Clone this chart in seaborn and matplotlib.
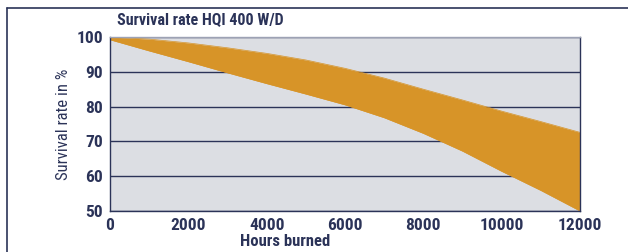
import matplotlib
matplotlib.use("Agg")
from matplotlib import pyplot as plt
import pandas as pd
import seaborn as sns

# data
hours = [0, 1000, 2000, 3000, 4000, 5000, 6000, 7000, 8000, 9000, 10000, 11000, 12000]
upper = [100.0, 99.4, 98.3, 96.9, 95.3, 93.4, 91.0, 88.2, 85.0, 81.9, 78.7, 75.7, 72.6]
lower = [99.2, 96.0, 92.9, 89.7, 86.6, 83.6, 80.5, 76.8, 72.3, 67.2, 61.4, 55.9, 50.0]

navy = '#2b3358'
orange = '#d79428'
panel = '#dcdee3'

sns.set_style('white', {'axes.facecolor': panel})
plt.rcParams['font.family'] = ['Roboto Condensed', 'DejaVu Sans']

df = pd.DataFrame({'hours': hours, 'upper': upper, 'lower': lower})

fig = plt.figure(figsize=(6.28, 2.52), dpi=100)
ax = fig.add_axes([110 / 628, 1 - 211 / 252, 470 / 628, 174 / 252])

sns.lineplot(data=df, x='hours', y='upper', ax=ax, color=orange, lw=0.5)
sns.lineplot(data=df, x='hours', y='lower', ax=ax, color=orange, lw=0.5)
ax.fill_between(df['hours'], df['lower'], df['upper'], color=orange, lw=0, zorder=2)

ax.set_xlim(0, 12000)
ax.set_ylim(50, 100)
ax.set_xticks(range(0, 12001, 2000))
ax.set_yticks(range(50, 101, 10))
ax.yaxis.grid(True, color=navy, lw=1.0, zorder=1)
ax.set_axisbelow(True)

for side in ['left', 'bottom', 'right']:
    ax.spines[side].set_color(navy)
    ax.spines[side].set_linewidth(1.0)
ax.spines['top'].set_color('#9da2b4')
ax.spines['top'].set_linewidth(1.0)

ax.tick_params(axis='both', colors=navy, labelcolor=navy, labelsize=12.5,
               length=4, width=0.8, direction='out', pad=1)
for lab in ax.get_xticklabels() + ax.get_yticklabels():
    lab.set_fontweight('bold')

ax.set_xlabel('Hours burned', color=navy, fontsize=12, fontweight='bold')
ax.xaxis.set_label_coords((285 - 110) / 470, -(234 - 211) / 174)
ax.set_ylabel('Survival rate in %', color=navy, fontsize=12)
ax.yaxis.set_label_coords(-(110 - 71) / 470, 0.5)

fig.text(117 / 628, 1 - 20 / 252, 'Survival rate HQI 400 W/D', color=navy,
         fontsize=11.5, fontweight='bold', va='center', ha='left')

# frame round the chart (left and top edges)
fig.add_artist(plt.Line2D([7 / 628, 7 / 628], [0, 1 - 8 / 252], color=navy, lw=1.2))
fig.add_artist(plt.Line2D([7 / 628, 1], [1 - 8 / 252, 1 - 8 / 252], color=navy, lw=1.2))

fig.savefig('out.png', dpi=100)
